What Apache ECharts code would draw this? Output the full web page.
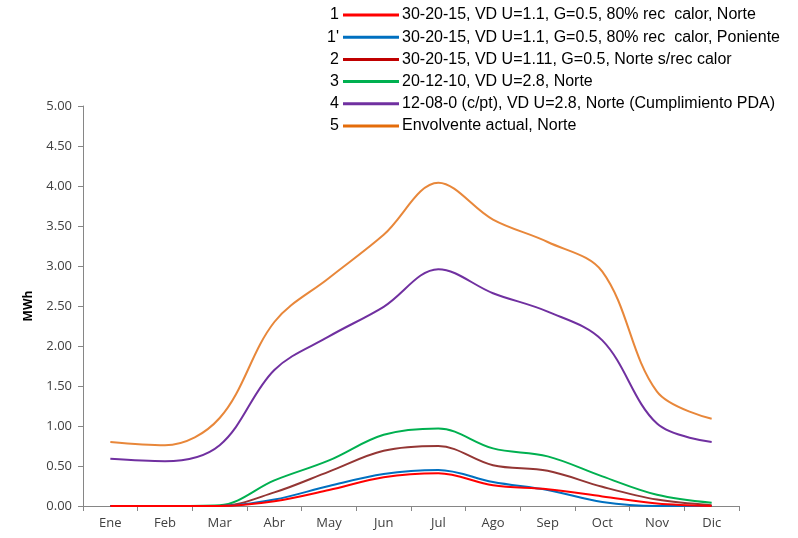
<!DOCTYPE html>
<html>
<head>
<meta charset="utf-8">
<script src="https://cdn.jsdelivr.net/npm/echarts@6/dist/echarts.min.js"></script>
<style>
html,body{margin:0;padding:0;background:#fff;}
#c{width:798px;height:538px;}
</style>
</head>
<body>
<div id="c"></div>
<script>
const months = ['Ene','Feb','Mar','Abr','May','Jun','Jul','Ago','Sep','Oct','Nov','Dic'];
const yTicks = {min:0, max:5, interval:0.5};
const legendNums = ['1',"1'",'2','3','4','5'];
const names = [
  '30-20-15, VD U=1.1, G=0.5, 80% rec  calor, Norte',
  '30-20-15, VD U=1.1, G=0.5, 80% rec  calor, Poniente',
  '30-20-15, VD U=1.11, G=0.5, Norte s/rec calor',
  '20-12-10, VD U=2.8, Norte',
  '12-08-0 (c/pt), VD U=2.8, Norte (Cumplimiento PDA)',
  'Envolvente actual, Norte'
];
const s1  = [0.00,0.00,0.00,0.06,0.20,0.36,0.41,0.26,0.21,0.12,0.03,0.00];
const s1b = [0.00,0.00,0.00,0.08,0.25,0.40,0.45,0.30,0.20,0.05,0.00,0.00];
const s2  = [0.00,0.00,0.00,0.17,0.43,0.69,0.75,0.51,0.44,0.24,0.08,0.01];
const s3  = [0.00,0.00,0.01,0.32,0.57,0.89,0.97,0.72,0.62,0.37,0.14,0.04];
const s4  = [0.59,0.56,0.76,1.70,2.12,2.49,2.96,2.66,2.43,2.07,1.03,0.80];
const s5  = [0.80,0.76,1.10,2.30,2.85,3.39,4.04,3.58,3.30,2.93,1.43,1.09];
const seriesData = [s1,s1b,s2,s3,s4,s5];
const lineColors = ['#FF0000','#0070C0','#943634','#00B050','#7030A0','#E8873A'];
const legendColors = ['#FF0000','#0070C0','#C00000','#00B050','#7030A0','#E46C0A'];

const chart = echarts.init(document.getElementById('c'));
const axisFont = {fontFamily:'Open Sans', fontSize:13, color:'#404040'};
const rowH = 22.2;
chart.setOption({
  animation:false,
  backgroundColor:'#fff',
  grid:{left:83, right:59, top:106, bottom:32},
  legend:{
    orient:'vertical', left:343, top:6.5, padding:0,
    icon:'rect', itemWidth:56, itemHeight:3, itemGap:5.2,
    textStyle:{fontFamily:'Liberation Sans', fontSize:16, color:'#000', lineHeight:17, padding:[0,0,0,-2]},
    data: names.map((n,i)=>({name:n, itemStyle:{color:legendColors[i]}}))
  },
  graphic: legendNums.map((t,i)=>({
    type:'text', right:798-339, top:7+i*rowH,
    style:{text:t, font:'16px "Liberation Sans"', fill:'#000', textAlign:'right'}
  })),
  xAxis:{
    type:'category', data:months, boundaryGap:true,
    axisLine:{lineStyle:{color:'#868686', width:1}},
    axisTick:{show:true, length:5, lineStyle:{color:'#868686'}},
    axisLabel:Object.assign({margin:11}, axisFont)
  },
  yAxis:{
    type:'value', min:yTicks.min, max:yTicks.max, interval:yTicks.interval,
    name:'MWh', nameLocation:'middle', nameGap:48, nameRotate:90,
    nameTextStyle:{fontFamily:'Open Sans', fontSize:12, fontWeight:'bold', color:'#000'},
    axisLine:{show:true, lineStyle:{color:'#868686', width:1}},
    axisTick:{show:true, length:5, lineStyle:{color:'#868686'}},
    splitLine:{show:false},
    axisLabel:Object.assign({margin:11, formatter:v=>v.toFixed(2)}, axisFont)
  },
  series: seriesData.map((d,i)=>({
    name:names[i], type:'line', data:d, smooth:0.35,
    showSymbol:false, symbol:'none',
    lineStyle:{color:lineColors[i], width:2}, itemStyle:{color:lineColors[i]},
    z: 10-i
  }))
});
</script>
</body>
</html>
